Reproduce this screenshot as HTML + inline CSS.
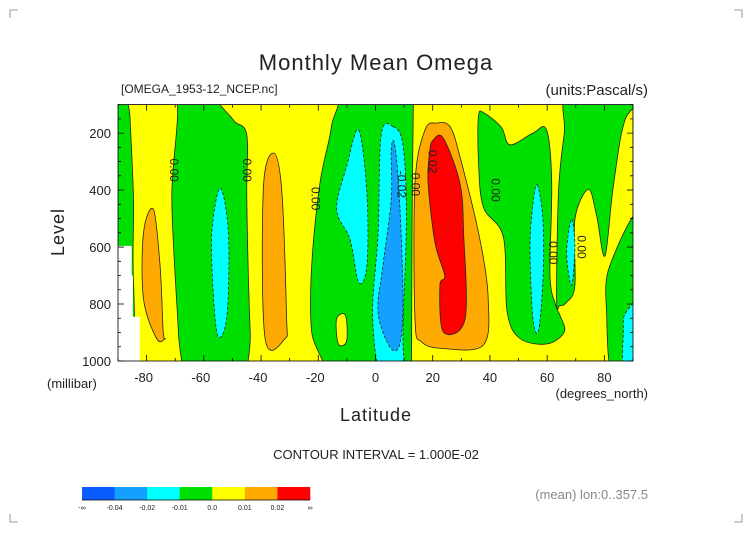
<!DOCTYPE html>
<html><head><meta charset="utf-8"><style>
html,body{margin:0;padding:0;background:#fff;}
svg text{font-family:"Liberation Sans",sans-serif;fill:#222;}
</style></head><body>
<svg id="chart" width="752" height="532" viewBox="0 0 752 532" xmlns="http://www.w3.org/2000/svg">
<defs><clipPath id="pc"><rect x="118" y="104.6" width="515" height="256.4"/></clipPath></defs>
<g id="corners" stroke="#999" stroke-width="1" fill="none">
<path d="M10 18 V10 H18 M734 10 H742 V18 M10 514 V522 H18 M734 522 H742 V514"/>
</g>
<text x="376" y="70" font-size="22" text-anchor="middle" letter-spacing="1">Monthly Mean Omega</text>
<text x="121" y="93" font-size="12">[OMEGA_1953-12_NCEP.nc]</text>
<text x="648" y="95" font-size="15" text-anchor="end">(units:Pascal/s)</text>
<g id="plot" clip-path="url(#pc)"></g>
<g id="axes"></g>
<text transform="translate(64,232) rotate(-90)" font-size="18" text-anchor="middle" letter-spacing="1">Level</text>
<text x="47" y="388" font-size="13">(millibar)</text>
<text x="376" y="421" font-size="18" text-anchor="middle" letter-spacing="1">Latitude</text>
<text x="648" y="398" font-size="13" text-anchor="end">(degrees_north)</text>
<text x="376" y="459" font-size="13" text-anchor="middle">CONTOUR INTERVAL = 1.000E-02</text>
<g id="cbar"></g>
<text x="648" y="499" font-size="13" text-anchor="end" style="fill:#888">(mean) lon:0..357.5</text>
</svg>
<script>
const NS="http://www.w3.org/2000/svg";
const X0=118,X1=633,Y0=104.6,Y1=361;
const latMin=-90,latMax=90,levMin=100,levMax=1000;
function xs(l){return X0+(l-latMin)/(latMax-latMin)*(X1-X0);}
function ys(v){return Y0+(v-levMin)/(levMax-levMin)*(Y1-Y0);}
const xTicks=[-80,-60,-40,-20,0,20,40,60,80];
const yTicks=[200,400,600,800,1000];
const cbarLabels=["-∞","-0.04","-0.02","-0.01","0.0","0.01","0.02","∞"];
const cbarColors=["#0a5cff","#14a0ff","#00ffff","#00e000","#ffff00","#ffaa00","#ff0000"];
const yellowA=[[-86,60],[-70,60],[-71.2,433],[-68.9,898],[-68.3,1060],[-81.7,1060],[-84.6,724],[-84.6,433],[-85.8,142]];
const yellowB=[[-53.2,60],[-16,60],[-15.4,177],[-19.4,375],[-22.3,666],[-22.3,898],[-18.2,1060],[-42.6,1060],[-43.8,898],[-45,433],[-45,206],[-49.7,154]];
const yellowBlob=[[-13.6,852],[-10.5,840],[-10.1,930],[-13,940]];
const yellowC=[[13.2,100],[90,100],[90,1000],[12.6,1000],[12.8,500]];
const green1=[[36,140],[38,130],[44,180],[47,241],[55,200],[59.8,189],[61.6,375],[61,700],[63,805],[64.5,840],[66,898],[60,940],[50.5,921],[46,826],[44.7,565],[37.7,460],[36,300]];
const green2=[[68,60],[94,60],[87.2,154],[83.1,387],[80.2,631],[77.3,491],[74.4,398],[69.7,503],[69.7,735],[66.8,794],[64.5,805],[63.3,782],[64,400],[66,200]];
const green3=[[94,480],[81.9,666],[80.8,840],[83.1,1060],[94,1060]];
const orangeL=[[-77.6,468],[-75.3,666],[-74.2,898],[-73.6,921],[-76.5,921],[-81.1,782],[-81.1,550]];
const orangeM=[[-35.7,270],[-32.8,398],[-31.1,840],[-31.6,921],[-38.6,921],[-39.2,398]];
const orangeC=[[21.4,165],[26,177],[29.5,282],[36.5,573],[39.4,782],[37.7,944],[23.7,956],[16.1,933],[13.8,852],[13.8,375],[17.3,189]];
const redC=[[20.2,224],[23.7,218],[29.5,375],[30.8,550],[31.3,852],[23.7,898],[22.5,735],[24.2,700],[20.8,585],[18.4,375],[19,259]];
const cyanL=[[-54.3,393],[-51.4,550],[-51.9,840],[-54.9,916],[-56.6,782],[-57.2,550]];
const cyanW=[[-5.9,189],[-3,410],[-3,666],[-5.9,724],[-8.9,573],[-13.6,468],[-10.1,317]];
const cyanC=[[6.1,177],[9.6,241],[10.8,491],[9.6,898],[9.6,1060],[2,1060],[-1,840],[0.9,550],[2,206]];
const blueC=[[6.7,241],[8.4,433],[9.6,782],[8.4,944],[5,950],[0.9,829],[2.6,666],[5.5,433],[5.5,259]];
const cyanR=[[56.5,381],[58.5,500],[58.6,700],[57,892],[55,850],[54,600],[55,450]];
const cyanS=[[68.5,503],[69.7,600],[68.5,735],[66.8,620]];
const cyanE=[[94,790],[87.5,830],[86.6,900],[87,1060],[94,1060]];
const missing=[[-90,596],[-85.2,596],[-85.2,700],[-84.8,700],[-84.8,845],[-82.4,845],[-82.4,1000],[-90,1000]];
const labels=[[-70.5,330,"0.00"],[-45,330,"0.00"],[-21,430,"0.00"],[9,380,"-0.02"],[14,380,"0.00"],[20,300,"0.02"],[42,400,"0.00"],[62,620,"0.00"],[72,600,"0.00"]];

const plot=document.getElementById('plot');
const bg=document.createElementNS(NS,'rect');


bg.setAttribute('x',X0);bg.setAttribute('y',Y0);bg.setAttribute('width',X1-X0);bg.setAttribute('height',Y1-Y0);bg.setAttribute('fill','#00e000');
plot.appendChild(bg);
function smoothPath(pts){
  const P=pts.map(q=>[xs(q[0]),ys(q[1])]);const n=P.length;
  let d=`M${P[0][0].toFixed(1)},${P[0][1].toFixed(1)}`;
  for(let i=0;i<n;i++){
    const p0=P[(i-1+n)%n],p1=P[i],p2=P[(i+1)%n],p3=P[(i+2)%n];
    const c1=[p1[0]+(p2[0]-p0[0])/6,p1[1]+(p2[1]-p0[1])/6];
    const c2=[p2[0]-(p3[0]-p1[0])/6,p2[1]-(p3[1]-p1[1])/6];
    d+=`C${c1[0].toFixed(1)},${c1[1].toFixed(1)} ${c2[0].toFixed(1)},${c2[1].toFixed(1)} ${p2[0].toFixed(1)},${p2[1].toFixed(1)}`;
  }
  return d+'Z';
}
function poly(pts,fill,name,dash,straight){
  const p=document.createElementNS(NS,'path');
  
  
  p.setAttribute('d',straight?('M'+pts.map(q=>xs(q[0]).toFixed(1)+','+ys(q[1]).toFixed(1)).join('L')+'Z'):smoothPath(pts));
  p.setAttribute('fill',fill);
  p.setAttribute('stroke',fill==='#fff'?'none':'#222');
  p.setAttribute('stroke-width','0.8');
  if(dash)p.setAttribute('stroke-dasharray','3,2');
  plot.appendChild(p);
}
poly(yellowA,'#ffff00','yellow-region-a');
poly(yellowB,'#ffff00','yellow-region-b');
poly(yellowBlob,'#ffff00','yellow-blob');
poly(yellowC,'#ffff00','yellow-region-c',0,1);
poly(green1,'#00e000','green-region-1');
poly(green2,'#00e000','green-region-2');
poly(green3,'#00e000','green-region-3');
poly(orangeL,'#ffaa00','orange-region-left');
poly(orangeM,'#ffaa00','orange-region-mid');
poly(orangeC,'#ffaa00','orange-region-center');
poly(redC,'#ff0000','red-region');
poly(cyanL,'#00ffff','cyan-region-left',1);
poly(cyanW,'#00ffff','cyan-region-west',1);
poly(cyanC,'#00ffff','cyan-region-center',1);
poly(blueC,'#14a0ff','blue-region-center',1);
poly(cyanR,'#00ffff','cyan-region-right',1);
poly(cyanS,'#00ffff','cyan-region-small',1);
poly(cyanE,'#00ffff','cyan-region-east',1);
poly(missing,'#fff','missing-data',0,1);
labels.forEach(l=>{
  const t=document.createElementNS(NS,'text');
  
  
  t.setAttribute('transform','translate('+xs(l[0])+','+ys(l[1])+') rotate(90)');
  t.setAttribute('font-size','12');t.setAttribute('text-anchor','middle');t.setAttribute('dy','4');
  t.textContent=l[2];plot.appendChild(t);
});
const ax=document.getElementById('axes');
const fr=document.createElementNS(NS,'rect');


fr.setAttribute('x',X0);fr.setAttribute('y',Y0);fr.setAttribute('width',X1-X0);fr.setAttribute('height',Y1-Y0);fr.setAttribute('fill','none');fr.setAttribute('stroke','#000');fr.setAttribute('stroke-width','0.8');
ax.appendChild(fr);
let d='';
for(let l=-90;l<=90;l+=10){const x=xs(l),len=(l%20===0)?6:3;d+=`M${x} ${Y1}v${-len}M${x} ${Y0}v${len}`;}
for(let v=100;v<=1000;v+=50){const y=ys(v),len=(v%200===0)?6:3;d+=`M${X0} ${y}h${len}M${X1} ${y}h${-len}`;}
const tk=document.createElementNS(NS,'path');


tk.setAttribute('d',d);tk.setAttribute('stroke','#000');tk.setAttribute('stroke-width','0.8');
ax.appendChild(tk);
xTicks.forEach(v=>{const t=document.createElementNS(NS,'text');
  
  
  t.setAttribute('x',xs(v)-(v<0?3:0));t.setAttribute('y',382);t.setAttribute('font-size','13');t.setAttribute('text-anchor','middle');t.textContent=v;ax.appendChild(t);});
yTicks.forEach(v=>{const t=document.createElementNS(NS,'text');
  
  
  t.setAttribute('x',111);t.setAttribute('y',ys(v)+5);t.setAttribute('font-size','13');t.setAttribute('text-anchor','end');t.textContent=v;ax.appendChild(t);});
const cb=document.getElementById('cbar');
const cbX=82,cbW=228,cbY=487,cbH=13,bw=cbW/cbarColors.length;
cbarColors.forEach((c,i)=>{const r=document.createElementNS(NS,'rect');
  
  
  r.setAttribute('x',cbX+i*bw);r.setAttribute('y',cbY);r.setAttribute('width',bw+0.3);r.setAttribute('height',cbH);r.setAttribute('fill',c);cb.appendChild(r);});
const ln=document.createElementNS(NS,'path');


ln.setAttribute('d',`M${cbX} ${cbY+cbH}h${cbW}`);ln.setAttribute('stroke','#000');ln.setAttribute('stroke-width','0.8');cb.appendChild(ln);
cbarLabels.forEach((s,i)=>{const t=document.createElementNS(NS,'text');
  
  
  t.setAttribute('x',cbX+i*bw);t.setAttribute('y',510);t.setAttribute('font-size','7');t.setAttribute('text-anchor','middle');t.textContent=s;cb.appendChild(t);});
</script>
</body></html>
